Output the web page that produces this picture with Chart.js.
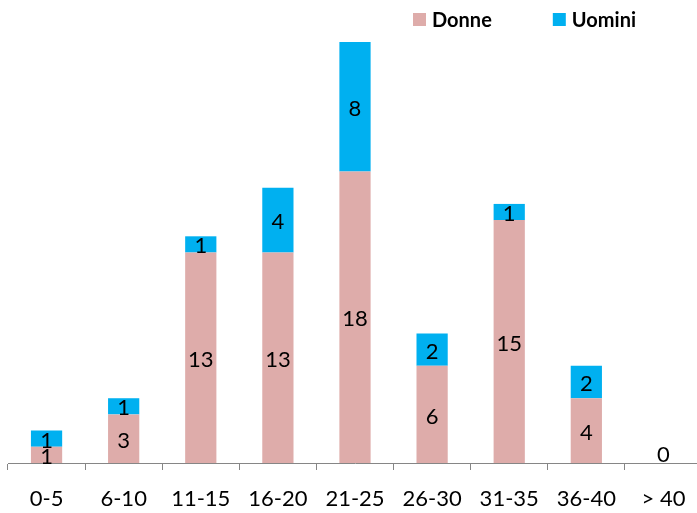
<!DOCTYPE html>
<html>
<head>
<meta charset="utf-8">
<script src="https://cdn.jsdelivr.net/npm/chart.js@4"></script>
<style>
html,body{margin:0;padding:0;background:#fff;overflow:hidden;}
#wrap{width:710px;height:513px;}
</style>
</head>
<body>
<div id="wrap"><canvas id="c" width="710" height="513"></canvas></div>
<script>
const categories = ['0-5','6-10','11-15','16-20','21-25','26-30','31-35','36-40','> 40'];
const donne = [1,3,13,13,18,6,15,4,0];
const uomini = [1,1,1,4,8,2,1,2,0];
const seriesNames = ['Donne','Uomini'];
const seriesColors = ['#DEACAA','#00B0F0'];
const yMax = 26;

const FONT = 'Lato';

const valueLabels = {
  id: 'valueLabels',
  afterDatasetsDraw(chart) {
    const ctx = chart.ctx;
    ctx.save();
    ctx.font = '22px ' + FONT;
    ctx.fillStyle = '#000';
    ctx.textAlign = 'center';
    ctx.textBaseline = 'middle';
    const zeroDone = {};
    chart.data.datasets.forEach((ds, i) => {
      const meta = chart.getDatasetMeta(i);
      meta.data.forEach((el, j) => {
        const v = ds.data[j];
        if (v === null || v === undefined) return;
        let y;
        if (v === 0) {
          if (zeroDone[j]) return;
          zeroDone[j] = true;
          y = el.base - 8;
        } else {
          y = (el.y + el.base) / 2 + 2;
        }
        ctx.fillText(String(v), el.x, y);
      });
    });
    ctx.restore();
  }
};

const customLegend = {
  id: 'customLegend',
  afterDraw(chart, args, opts) {
    const ctx = chart.ctx;
    ctx.save();
    ctx.font = 'bold 20px ' + FONT;
    ctx.textBaseline = 'middle';
    ctx.textAlign = 'left';
    let x = opts.x;
    const yc = opts.y;
    chart.data.datasets.forEach(ds => {
      ctx.fillStyle = ds.backgroundColor;
      ctx.fillRect(x, yc - 6.5, 13, 13);
      x += 13 + 6;
      ctx.fillStyle = '#000';
      ctx.fillText(ds.label, x, yc + 1);
      x += ctx.measureText(ds.label).width + opts.gap;
    });
    ctx.restore();
  }
};

new Chart(document.getElementById('c'), {
  type: 'bar',
  data: {
    labels: categories,
    datasets: [
      { label: seriesNames[0], data: donne, backgroundColor: seriesColors[0] },
      { label: seriesNames[1], data: uomini, backgroundColor: seriesColors[1] }
    ]
  },
  options: {
    responsive: false,
    animation: false,
    layout: { padding: { top: 42, left: 8, right: 8, bottom: 0 } },
    datasets: { bar: { barPercentage: 0.405, categoryPercentage: 1.0 } },
    plugins: {
      legend: { display: false },
      tooltip: { enabled: false },
      customLegend: { x: 413, y: 19.5, gap: 61 }
    },
    scales: {
      x: {
        stacked: true,
        grid: { drawOnChartArea: false, drawTicks: true, tickLength: 7, color: '#868686', offset: true },
        border: { color: '#868686', width: 1 },
        ticks: { color: '#000', font: { family: FONT, size: 22 }, padding: 16 },
        afterFit(scale) { scale.height = 50; }
      },
      y: {
        stacked: true,
        display: false,
        min: 0,
        max: yMax
      }
    }
  },
  plugins: [valueLabels, customLegend]
});
</script>
</body>
</html>
